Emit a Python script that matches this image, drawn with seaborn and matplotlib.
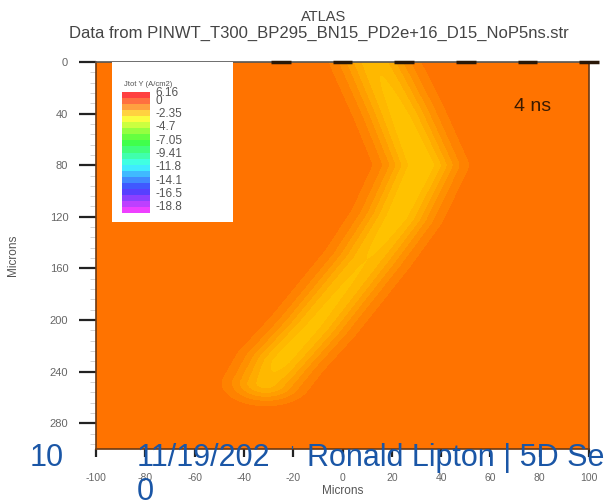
import numpy as np
import matplotlib
matplotlib.use("Agg")
import matplotlib.pyplot as plt
from matplotlib.ticker import MultipleLocator
import seaborn as sns

# ---------------- data ----------------
x_ticks = [-100, -80, -60, -40, -20, 0, 20, 40, 60, 80, 100]
y_ticks = [0, 40, 80, 120, 160, 200, 240, 280]

# centre line of the current band (microns) and its strength along the path
path_x = [11, 13, 23, 32, 22, 10, -12, -25, -31]
path_y = [-20, 0, 40, 80, 120, 153, 205, 232, 249]
path_amp = [3.3, 3.5, 3.9, 4.2, 4.0, 3.6, 3.8, 3.9, 3.3]
band_width = 14.0

contour_levels = [-6.0, -3.6, -3.0, -2.4, -1.8, -1.2, -0.6, 0.5]
band_colors = ["#ffc200", "#ffb800", "#ffab00", "#ff9e00", "#ff9000",
               "#ff8200", "#ff7300"]

electrode_x = [-25, 0, 25, 50, 75, 100]
electrode_half = 4

legend_labels = ["0", "-2.35", "-4.7", "-7.05", "-9.41", "-11.8", "-14.1", "-16.5", "-18.8"]
legend_top_label = "6.16"
n_swatches = 20

# ---------------- field ----------------
gx = np.linspace(-100, 100, 401)
gy = np.linspace(0, 300, 601)
X, Y = np.meshgrid(gx, gy)
best_d = np.full(X.shape, np.inf)
best_a = np.zeros(X.shape)
px, py, pa = map(np.asarray, (path_x, path_y, path_amp))
for i in range(len(px) - 1):
    ax_, ay_ = px[i], py[i]
    bx_, by_ = px[i + 1], py[i + 1]
    vx, vy = bx_ - ax_, by_ - ay_
    t = ((X - ax_) * vx + (Y - ay_) * vy) / (vx * vx + vy * vy)
    t = np.clip(t, 0, 1)
    d = np.hypot(X - (ax_ + t * vx), Y - (ay_ + t * vy))
    a = pa[i] + t * (pa[i + 1] - pa[i])
    m = d < best_d
    best_d[m] = d[m]
    best_a[m] = a[m]
V = -best_a * np.exp(-(best_d / band_width) ** 2)

# ---------------- figure ----------------
sns.set_theme(style="ticks")
plt.rcParams["font.family"] = ["Liberation Sans", "DejaVu Sans"]
plt.rcParams["axes.unicode_minus"] = False

W, H = 606, 504
fig = plt.figure(figsize=(W / 100, H / 100), dpi=100)
fig.patch.set_facecolor("white")

def fx(p):
    return p / W

def fy(p):
    return 1 - p / H

L, R, T, B = 96, 589, 62, 449
ax = fig.add_axes([fx(L), fy(B), fx(R - L), (B - T) / H])
ax.contourf(X, Y, V, levels=contour_levels, colors=band_colors)
ax.set_xlim(-100, 100)
ax.set_ylim(300, 0)
ax.set_xticks(x_ticks)
ax.set_yticks(y_ticks)
ax.yaxis.set_minor_locator(MultipleLocator(8))
ax.tick_params(axis="y", which="major", length=12, width=1.6, color="#222222",
               labelsize=8, labelcolor="#666666", pad=8)
ax.tick_params(axis="y", which="minor", length=4, width=0.6, color="#cccccc")
ax.tick_params(axis="x", which="major", length=6, width=1.6, color="#222222",
               labelsize=7.5, labelcolor="#666666", pad=11)
for s in ax.spines.values():
    s.set_color("#6b3a14")
    s.set_linewidth(1.2)
ax.spines["top"].set_color("#555555")
ax.set_xlabel("Microns", fontsize=8.5, color="#555555", labelpad=2)
ax.set_ylabel("Microns", fontsize=8.5, color="#555555", labelpad=22)
ax.hlines([0] * len(electrode_x), [e - electrode_half for e in electrode_x],
          [e + electrode_half for e in electrode_x], colors="#2a1808", lw=2.5,
          clip_on=False, zorder=5)
ax.text(0.886, 0.884, "4 ns", transform=ax.transAxes, fontsize=14,
        color="#3a1a00", ha="center", va="center")

fig.text(fx(324), fy(17), "ATLAS", fontsize=10.5, color="#444444", ha="center", va="center")
fig.text(fx(319), fy(33), "Data from PINWT_T300_BP295_BN15_PD2e+16_D15_NoP5ns.str",
         fontsize=12, color="#444444", ha="center", va="center")

# ---------------- legend box ----------------
lx0, lx1, ly0, ly1 = 112, 233, 62, 222
lg = fig.add_axes([fx(lx0), fy(ly1), fx(lx1 - lx0), (ly1 - ly0) / H])
lg.set_xlim(0, lx1 - lx0)
lg.set_ylim(ly1 - ly0, 0)
lg.set_facecolor("white")
for s in lg.spines.values():
    s.set_visible(False)
lg.set_xticks([])
lg.set_yticks([])
sw_top, sw_bot = 30, 151
edges = np.linspace(sw_top, sw_bot, n_swatches + 1)
cols = plt.cm.hsv(np.linspace(0.0, 0.83, n_swatches))
cols = 0.75 * cols[:, :3] + 0.25
lg.barh(edges[:-1], 28, height=np.diff(edges), left=10, align="edge",
        color=cols, edgecolor="none")
lg.text(36, 22, "Jtot Y (A/cm2)", fontsize=5.5, color="#555555", ha="center", va="center")
lg.text(43, 31, legend_top_label, fontsize=8.5, color="#555555", ha="left", va="center")
lab_y = np.linspace(39, 145, len(legend_labels))
for yv, t in zip(lab_y, legend_labels):
    lg.text(43, yv, t, fontsize=8.5, color="#555555", ha="left", va="center")

# ---------------- slide footer ----------------
blue = "#1a56a6"
fig.text(fx(30), fy(458), "10", fontsize=22, color=blue, ha="left", va="center")
fig.text(fx(137), fy(458), "11/19/202", fontsize=22, color=blue, ha="left", va="center")
fig.text(fx(137), fy(492), "0", fontsize=22, color=blue, ha="left", va="center")
fig.text(fx(292), fy(452), "'", fontsize=11, color=blue, ha="center", va="center")
fig.text(fx(307), fy(458), "Ronald Lipton | 5D Sensors", fontsize=22, color=blue,
         ha="left", va="center")

fig.savefig("out.png", dpi=100)
